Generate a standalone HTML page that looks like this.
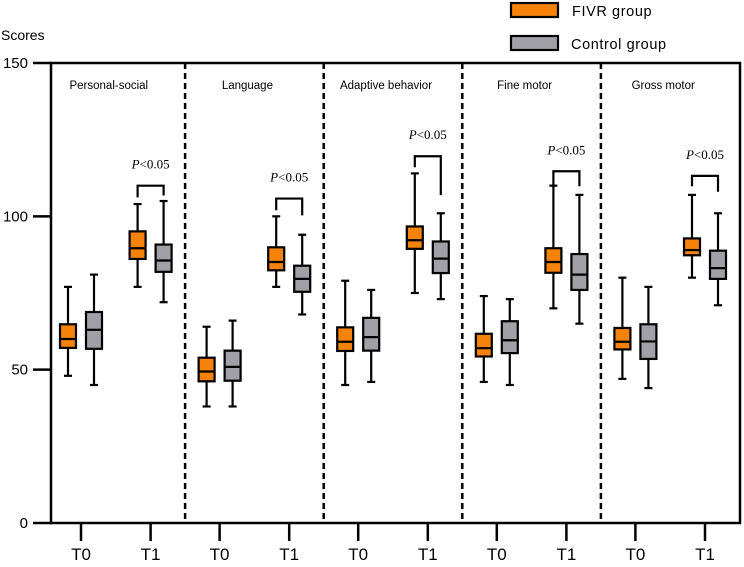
<!DOCTYPE html>
<html><head><meta charset="utf-8"><style>
html,body{margin:0;padding:0;background:#fff;width:744px;height:567px;overflow:hidden}
text{font-family:"Liberation Sans",Arial,sans-serif}
text.pv{font-family:"Liberation Serif","Times New Roman",serif}
</style></head><body>
<svg id="chart" width="744" height="567" viewBox="0 0 744 567" xmlns="http://www.w3.org/2000/svg"></svg>
<script>
const domains = ["Personal-social","Language","Adaptive behavior","Fine motor","Gross motor"];
const times = ["T0","T1"];
const yTicks = [0,50,100,150];
// each entry: [low, q1, median, q3, high], order per domain: T0, T1
const fivrStats = [
  [[48,57.1,60,64.8,77],[77,86.1,89.6,95.1,104]],
  [[38,46.2,49.4,53.9,64],[77,82.4,85.1,89.9,100]],
  [[45,56.1,59.1,63.8,79],[75,89.4,92.2,96.7,114]],
  [[46,54.3,57,61.7,74],[70,81.6,85.1,89.6,110]],
  [[47,56.6,59.1,63.6,80],[80,87.3,89,92.8,107]]
];
const controlStats = [
  [[45,56.8,63,68.8,81],[72,81.9,85.6,90.8,105]],
  [[38,46.4,50.9,56.2,66],[68,75.4,79.6,83.9,94]],
  [[46,56.2,60.6,66.9,76],[73,81.5,86.2,91.8,101]],
  [[45,55.4,59.6,65.8,73],[65,76,81,87.7,107]],
  [[44,53.5,59.2,64.8,77],[71,79.6,83.1,88.8,101]]
];
const bracketTop = [110,105.8,119.6,114.7,113.2];
const bracketLegs = [[106.2,106.8],[102,100.3],[116,106.9],[110,109.8],[109.8,108]];

const svg = document.getElementById('chart');
const NS = "http://www.w3.org/2000/svg";
const X0 = 51, X1 = 740, Y0 = 523, YT = 63;
function y(v){ return Y0 - (v/150)*(Y0-YT); }
function catX(d,t){ return 81 + d*138.6 + t*69.6; }
function el(tag, attrs, parent){
  const e = document.createElementNS(NS, tag);
  for (const k in attrs) e.setAttribute(k, attrs[k]);
  (parent||svg).appendChild(e);
  return e;
}
const frame = el('rect',{x:X0,y:YT,width:X1-X0,height:Y0-YT,fill:'none',stroke:'#000','stroke-width':2.5});


yTicks.forEach(v=>{
  const l = el('line',{x1:33,x2:X0,y1:y(v),y2:y(v),stroke:'#000','stroke-width':2.5});
  
  
  const t = el('text',{x:28,y:y(v)+5,'text-anchor':'end','font-size':15});
  t.textContent = v;
  
  
});
const st = el('text',{x:1,y:40,'font-size':14});
st.textContent = 'Scores';


for (let i=1;i<domains.length;i++){
  const dx = (catX(i-1,1)+catX(i,0))/2;
  const d = el('line',{x1:dx,x2:dx,y1:YT,y2:Y0,stroke:'#000','stroke-width':2.5,'stroke-dasharray':'6 4'});
  
  
}
function drawBox(cx, s, fill, name){
  const g = el('g',{});
  
  
  const w = 16;
  el('line',{x1:cx,x2:cx,y1:y(s[0]),y2:y(s[4]),stroke:'#000','stroke-width':2.2},g);
  el('line',{x1:cx-4,x2:cx+4,y1:y(s[0]),y2:y(s[0]),stroke:'#000','stroke-width':2.2},g);
  el('line',{x1:cx-4,x2:cx+4,y1:y(s[4]),y2:y(s[4]),stroke:'#000','stroke-width':2.2},g);
  el('rect',{x:cx-w/2,y:y(s[3]),width:w,height:y(s[1])-y(s[3]),fill:fill,stroke:'#000','stroke-width':2.2},g);
  el('line',{x1:cx-w/2,x2:cx+w/2,y1:y(s[2]),y2:y(s[2]),stroke:'#000','stroke-width':2.2},g);
}
domains.forEach((name,d)=>{
  const mid = (catX(d,0)+catX(d,1))/2;
  const tt = el('text',{x:mid-7,y:89,'text-anchor':'middle','font-size':11.5});
  tt.textContent = name;
  
  
  times.forEach((tm,t)=>{
    const cx = catX(d,t);
    const tk = el('line',{x1:cx,x2:cx,y1:Y0,y2:Y0+18,stroke:'#000','stroke-width':2.5});
    
    
    const tl = el('text',{x:cx,y:Y0+37,'text-anchor':'middle','font-size':17});
    tl.textContent = tm;
    
    
    drawBox(cx-13, fivrStats[d][t], '#F5820A', 'fivr-box');
    drawBox(cx+13, controlStats[d][t], '#A0A0A6', 'control-box');
  });
  const bx1 = catX(d,1)-13, bx2 = catX(d,1)+13;
  const br = el('path',{d:`M${bx1},${y(bracketLegs[d][0])} V${y(bracketTop[d])} H${bx2} V${y(bracketLegs[d][1])}`,fill:'none',stroke:'#000','stroke-width':2.2});
  
  
  const pt = el('text',{x:catX(d,1),y:y(bracketTop[d])-17,'text-anchor':'middle','font-size':13,'class':'pv'});
  pt.innerHTML = '<tspan font-style="italic">P</tspan>&lt;0.05';
  
  
});
const lg = el('g',{});


const r1 = el('rect',{x:511,y:3,width:47,height:14,fill:'#F5820A',stroke:'#000','stroke-width':2.2},lg);


const t1 = el('text',{x:572,y:16,'font-size':14.5,'letter-spacing':'0.6'},lg);
t1.textContent = 'FIVR group';


const r2 = el('rect',{x:511,y:36,width:47,height:14,fill:'#A0A0A6',stroke:'#000','stroke-width':2.2},lg);


const t2 = el('text',{x:571,y:49,'font-size':14.5,'letter-spacing':'0.6'},lg);
t2.textContent = 'Control group';


</script>
</body></html>
